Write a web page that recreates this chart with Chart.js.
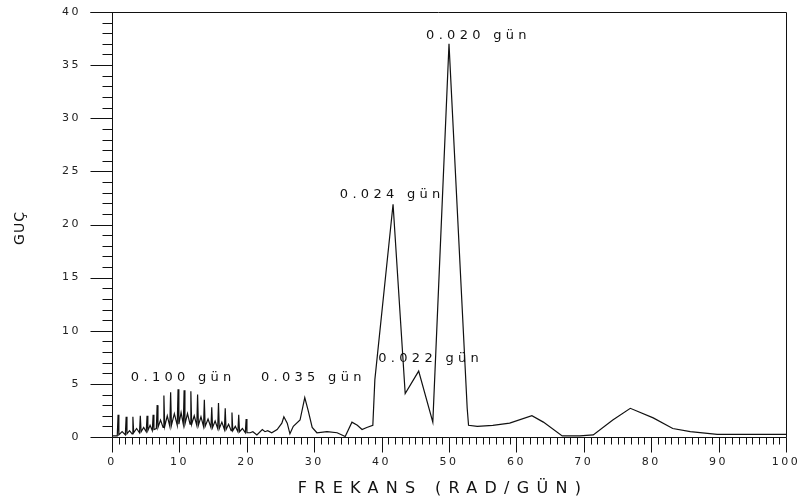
<!DOCTYPE html>
<html>
<head>
<meta charset="utf-8">
<script src="https://cdn.jsdelivr.net/npm/chart.js@4.4.1/dist/chart.umd.min.js"></script>
<style>
  html, body { margin: 0; padding: 0; background: #fff; }
  #wrap { width: 800px; height: 502px; }
</style>
</head>
<body>
<div id="wrap"><canvas id="chart"></canvas></div>
<script>
// frekans (rad/gün) ve güç değerleri
const FREQ = [
  0, 0.78, 0.9, 1.02, 1.5, 1.98, 2.1, 2.22, 2.6, 2.98, 3.1, 3.22, 3.65, 4.08, 4.2, 4.32,
  4.7, 5.08, 5.2, 5.32, 5.65, 5.98, 6.1, 6.22, 6.58, 6.7, 6.82, 7.2, 7.58, 7.7, 7.82,
  8.2, 8.58, 8.7, 8.82, 9.25, 9.68, 9.8, 9.92, 10.25, 10.58, 10.7, 10.82, 11.2, 11.58,
  11.7, 11.82, 12.2, 12.58, 12.7, 12.82, 13.2, 13.58, 13.7, 13.82, 14.25, 14.68, 14.8,
  14.92, 15.3, 15.68, 15.8, 15.92, 16.3, 16.68, 16.8, 16.92, 17.3, 17.68, 17.8, 17.92,
  18.3, 18.68, 18.8, 18.92, 19.35, 19.78, 19.9, 20.02, 20.5,
  20.9, 21.5, 22.3, 22.7, 23.1, 23.7, 24.5, 25.2, 25.5, 26.0, 26.4, 26.9, 27.9, 28.6, 29.1,
  29.7, 30.4, 31.9, 33.4, 34.6, 35.6, 36.4, 37.1, 37.8, 38.7,
  39.0, 41.7, 43.5, 45.5, 47.6, 50.0, 52.7, 52.9,
  54.2, 56.5, 59.0, 62.3, 64.0, 66.8, 69.4, 71.4, 74.3, 76.9, 80.3, 83.2, 85.8, 89.8, 100,
];
const POWER = [
  0.1, 0.1, 2.1, 0.2, 0.5, 0.2, 1.9, 0.3, 0.6, 0.3, 1.9, 0.4, 0.8, 0.4, 2.0, 0.5,
  0.9, 0.5, 2.0, 0.6, 1.1, 0.6, 2.1, 0.7, 0.8, 3.0, 0.9, 1.6, 0.9, 3.9, 1.0,
  2.0, 1.0, 4.2, 1.1, 2.2, 1.1, 4.5, 1.2, 2.3, 1.2, 4.4, 1.2, 2.2, 1.2,
  4.3, 1.2, 2.0, 1.1, 4.0, 1.1, 1.9, 1.0, 3.5, 1.0, 1.7, 0.9, 2.8,
  0.9, 1.5, 0.8, 3.2, 0.8, 1.4, 0.7, 2.7, 0.7, 1.2, 0.6, 2.3, 0.6,
  1.0, 0.5, 2.1, 0.5, 0.8, 0.4, 1.7, 0.4, 0.4,
  0.5, 0.2, 0.7, 0.5, 0.6, 0.4, 0.7, 1.3, 1.9, 1.3, 0.3, 1.0, 1.6, 3.7, 2.5,
  0.9, 0.4, 0.5, 0.4, 0.05, 1.4, 1.1, 0.7, 0.9, 1.1,
  5.4, 21.9, 4.1, 6.2, 1.4, 37.0, 2.7, 1.1,
  1.0, 1.1, 1.3, 2.0, 1.4, 0.1, 0.1, 0.2, 1.6, 2.7, 1.8, 0.8, 0.5, 0.25, 0.25,
];

// tepe etiketleri (veri koordinatlarında sol-orta noktası)
const PEAK_TEXT = ['0.100 gün', '0.035 gün', '0.022 gün', '0.024 gün', '0.020 gün'];
const PEAK_X    = [2.8, 22.1, 39.5, 33.8, 46.6];
const PEAK_Y    = [5.55, 5.55, 7.4, 22.8, 37.8];

const X_TITLE = 'FREKANS (RAD/GÜN)';
const Y_TITLE = 'GUÇ';

const INK = '#111';

function noPad(s) {
  s.paddingTop = 0; s.paddingBottom = 0; s.paddingLeft = 0; s.paddingRight = 0;
}

const framePlugin = {
  id: 'frame',
  beforeDraw(chart) {
    chart.ctx.letterSpacing = '2.5px';
  },
  afterDraw(chart) {
    const { ctx, chartArea: a, scales: { x, y } } = chart;
    ctx.save();
    ctx.strokeStyle = INK;
    ctx.lineWidth = 1;
    ctx.beginPath();
    const L = a.left + 0.5, R = Math.round(a.right) + 0.5;
    const T = a.top + 0.5, B = Math.round(a.bottom) + 0.5;
    // kutu
    ctx.moveTo(L - 22, T); ctx.lineTo(R, T); ctx.lineTo(R, B);
    ctx.moveTo(L, T); ctx.lineTo(L, B);
    ctx.moveTo(L, B); ctx.lineTo(R, B);
    // y çentikleri
    for (let v = 0; v <= 40; v++) {
      const py = Math.round(y.getPixelForValue(v)) + 0.5;
      const len = v % 5 ? 10 : 22;
      ctx.moveTo(L - len, py); ctx.lineTo(L, py);
    }
    // x çentikleri
    for (let v = 0; v <= 100; v++) {
      const px = Math.round(x.getPixelForValue(v)) + 0.5;
      const len = v % 10 ? 7 : 15;
      ctx.moveTo(px, B); ctx.lineTo(px, B + len);
    }
    ctx.stroke();

    // tepe etiketleri
    ctx.fillStyle = INK;
    ctx.font = '13px "DejaVu Sans"';
    ctx.letterSpacing = '4.3px';
    ctx.textAlign = 'left';
    ctx.textBaseline = 'middle';
    PEAK_TEXT.forEach((t, i) => {
      ctx.fillText(t, x.getPixelForValue(PEAK_X[i]), y.getPixelForValue(PEAK_Y[i]));
    });

    // eksen başlıkları
    ctx.font = '16px "DejaVu Sans"';
    ctx.letterSpacing = '7.3px';
    ctx.textAlign = 'center';
    ctx.fillText(X_TITLE, (a.left + a.right) / 2 - 6, 489);

    ctx.translate(20, 228);
    ctx.rotate(-Math.PI / 2);
    ctx.font = '14px "DejaVu Sans"';
    ctx.letterSpacing = '1px';
    ctx.fillText(Y_TITLE, 0, 0);
    ctx.restore();
    chart.ctx.letterSpacing = '0px';
  },
};

new Chart(document.getElementById('chart'), {
  type: 'line',
  data: {
    datasets: [{
      data: FREQ.map((f, i) => ({ x: f, y: POWER[i] })),
      borderColor: INK,
      borderWidth: 1.2,
      pointRadius: 0,
      tension: 0,
      fill: false,
    }],
  },
  options: {
    responsive: true, maintainAspectRatio: false, animation: false,
    layout: { padding: { top: 12, right: 14, left: 0, bottom: 0 } },
    plugins: { legend: { display: false }, tooltip: { enabled: false } },
    scales: {
      x: {
        type: 'linear', min: 0, max: 100,
        afterFit(s) { s.height = 65; noPad(s); },
        grid: { display: false, drawTicks: false },
        border: { display: false },
        ticks: {
          stepSize: 10, padding: 19, autoSkip: false, maxRotation: 0,
          color: '#222', font: { family: 'DejaVu Sans', size: 11 },
        },
      },
      y: {
        min: 0, max: 40,
        afterFit(s) { s.width = 112; noPad(s); },
        grid: { display: false, drawTicks: false },
        border: { display: false },
        ticks: {
          stepSize: 5, padding: 31,
          color: '#222', font: { family: 'DejaVu Sans', size: 11 },
        },
      },
    },
  },
  plugins: [framePlugin],
});
</script>
</body>
</html>
